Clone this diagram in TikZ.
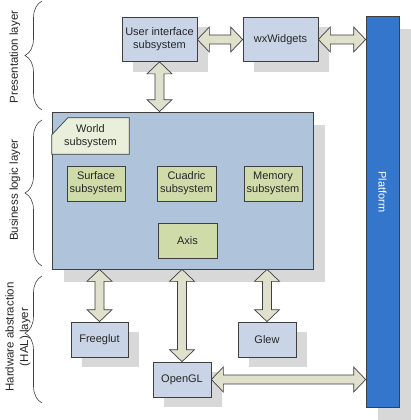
\documentclass[tikz,border=0pt]{standalone}
\usepackage{fontspec}
\setmainfont{Liberation Sans}
\usetikzlibrary{calc,decorations.pathreplacing,shadows}
\definecolor{linec}{HTML}{3F3F3F}
\definecolor{boxc}{HTML}{C9D5E6}
\definecolor{busc}{HTML}{AFC3DA}
\definecolor{greenc}{HTML}{D0DBAA}
\definecolor{worldc}{HTML}{E9EFDA}
\definecolor{platc}{HTML}{3476CC}
\definecolor{arrowc}{HTML}{DFE1CD}
\definecolor{shadowc}{HTML}{D8D8D8}
\definecolor{textc}{HTML}{262626}
\begin{document}
\begin{tikzpicture}[x=1pt,y=-1pt,
  boxbase/.style={draw=linec, line width=0.7pt, text=textc, align=center, inner sep=0pt,
    font=\fontsize{11}{13}\selectfont},
  shad/.style={drop shadow={shadow xshift=11pt, shadow yshift=-10pt, fill=shadowc, opacity=1}},
  bigshad/.style={drop shadow={shadow xshift=12pt, shadow yshift=-13pt, fill=shadowc, opacity=1}},
  sysbox/.style={boxbase, fill=boxc, shad},
  subbox/.style={boxbase, fill=greenc},
  layerlabel/.style={rotate=90, text=textc, align=center, font=\fontsize{11.5}{14.5}\selectfont},
  layerbrace/.style={draw=linec, line width=0.6pt, decorate, decoration={brace, amplitude=17pt}},
  dblarrow/.style={draw=linec, fill=arrowc, line width=0.7pt, line join=miter,
    to path={
      -- ($(\tikztostart)!12pt!(\tikztotarget)!12.5pt!90:(\tikztotarget)$)
      -- ($(\tikztostart)!12pt!(\tikztotarget)!4.5pt!90:(\tikztotarget)$)
      -- ($(\tikztotarget)!12pt!(\tikztostart)!4.5pt!-90:(\tikztostart)$)
      -- ($(\tikztotarget)!12pt!(\tikztostart)!12.5pt!-90:(\tikztostart)$)
      -- (\tikztotarget)
      -- ($(\tikztotarget)!12pt!(\tikztostart)!12.5pt!90:(\tikztostart)$)
      -- ($(\tikztotarget)!12pt!(\tikztostart)!4.5pt!90:(\tikztostart)$)
      -- ($(\tikztostart)!12pt!(\tikztotarget)!4.5pt!-90:(\tikztotarget)$)
      -- ($(\tikztostart)!12pt!(\tikztotarget)!12.5pt!-90:(\tikztotarget)$)
      -- cycle}}
]
\useasboundingbox (0,0) rectangle (411,420);

% layer braces and labels
\draw[layerbrace] (42,110) -- (42,1);
\draw[layerbrace] (42,266) -- (42,120);
\draw[layerbrace, decoration={brace, amplitude=17pt, aspect=0.55}] (42,403) -- (42,276);
\node[layerlabel] (lpres) at (15,57) {Presentation layer};
\node[layerlabel] (lbus) at (15,190) {Business logic layer};
\node[layerlabel] (lhal) at (18,337) {Hardware abstraction\\(HAL) layer};

% platform
\node[boxbase, fill=platc, bigshad, minimum width=33, minimum height=391] (plat) at (382.5,211.5) {};
\node[rotate=-90, text=white, font=\fontsize{11}{13}\selectfont] (plattxt) at (382.5,192) {Platform};

% business logic layer
\node[boxbase, fill=busc, bigshad, minimum width=261, minimum height=157] (bus) at (182.5,190.5) {};
\node[minimum width=77, minimum height=36, inner sep=0pt] (world) at (90.5,136) {};
\filldraw[draw=linec, fill=worldc, line width=0.7pt]
  (world.south west) -- ([yshift=-17pt]world.north west) -- ([xshift=16pt]world.north west)
  -- (world.north east) -- (world.south east) -- cycle;
\node[text=textc, align=center, font=\fontsize{11}{13.5}\selectfont] (worldtxt) at (world.center) {World\\subsystem};
\node[subbox, minimum width=58, minimum height=35] (surface) at (96,183.5) {Surface\\subsystem};
\node[subbox, minimum width=59, minimum height=35] (cuadric) at (186.5,183.5) {Cuadric\\subsystem};
\node[subbox, minimum width=58, minimum height=35] (memory) at (273,183.5) {Memory\\subsystem};
\node[subbox, minimum width=59, minimum height=35] (axis) at (187.5,240.5) {Axis};

% presentation
\node[sysbox, minimum width=75, minimum height=44] (ui) at (159.5,39.5) {User interface\\subsystem};
\node[sysbox, minimum width=75, minimum height=44] (wx) at (280.5,39.5) {wxWidgets};

% HAL
\node[sysbox, minimum width=57, minimum height=35] (freeglut) at (99.5,339.5) {Freeglut};
\node[sysbox, minimum width=58, minimum height=35] (glew) at (267,339.5) {Glew};
\node[sysbox, minimum width=58, minimum height=35] (opengl) at (182,379.5) {OpenGL};

% connectors
\path[dblarrow] (ui.south) to (ui.south |- bus.north);
\path[dblarrow] (ui.east) to (wx.west);
\path[dblarrow] (wx.east) to (wx.east -| plat.west);
\path[dblarrow] (freeglut.north |- bus.south) to (freeglut.north);
\path[dblarrow] (opengl.north |- bus.south) to (opengl.north);
\path[dblarrow] (glew.north |- bus.south) to (glew.north);
\path[dblarrow] (opengl.east) to (opengl.east -| plat.west);
\end{tikzpicture}
\end{document}
